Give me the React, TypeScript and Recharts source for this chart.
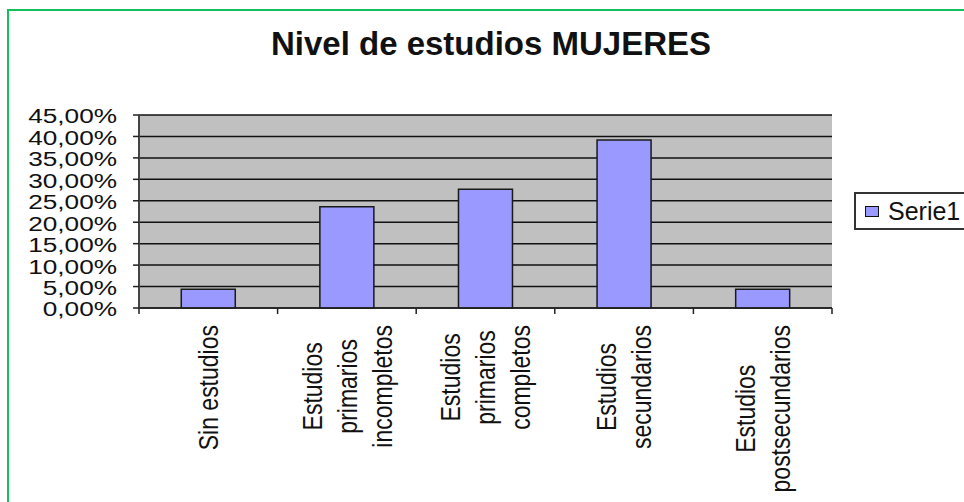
import React from "react";
import { BarChart, Bar, XAxis, YAxis, CartesianGrid } from "recharts";

const categories = [
  "Sin estudios",
  "Estudios\nprimarios\nincompletos",
  "Estudios\nprimarios\ncompletos",
  "Estudios\nsecundarios",
  "Estudios\npostsecundarios",
];
const serie1 = [0.044, 0.236, 0.277, 0.392, 0.044];
const yTicks = [0, 0.05, 0.1, 0.15, 0.2, 0.25, 0.3, 0.35, 0.4, 0.45];
const title = "Nivel de estudios MUJERES";
const seriesName = "Serie1";

const data = categories.map((c, i) => ({ cat: c, v: serie1[i] }));

const FONT = '"Liberation Sans", Arial, Helvetica, sans-serif';

let ctx: CanvasRenderingContext2D | null = null;
const measure = (s: string, size: number) => {
  if (!ctx) ctx = document.createElement("canvas").getContext("2d");
  if (!ctx) return s.length * size * 0.5;
  ctx.font = `${size}px "Liberation Sans", Arial`;
  return ctx.measureText(s).width;
};

const fmt = (v: number) => (v * 100).toFixed(2).replace(".", ",") + "%";

const YTick = (props: any) => {
  const { x, y, payload } = props;
  return (
    <g transform={`translate(${x},${y}) scale(1.31,1)`}>
      <text textAnchor="end" dy="0.42em" fontSize={20} fontFamily={FONT} fill="#111">
        {fmt(payload.value)}
      </text>
    </g>
  );
};

const XTick = (props: any) => {
  const { x, y, payload, index } = props;
  const off = payload.offset ?? 0;
  const lines = String(payload.value).split("\n");
  const size = 23;
  const maxLen = Math.max(...lines.map((l) => measure(l, size)));
  const cy = y + 17 + maxLen / 2;
  const lh = 28.7;
  const n = lines.length;
  return (
    <g>
      <line x1={x - off} x2={x - off} y1={y} y2={y + 6} stroke="#222" strokeWidth={1.5} />
      {index === categories.length - 1 && (
        <line x1={x + off} x2={x + off} y1={y} y2={y + 6} stroke="#222" strokeWidth={1.5} />
      )}
      <g transform={`translate(${x},${cy}) scale(1.22,1) rotate(-90)`}>
        {lines.map((l, i) => (
          <text
            key={i}
            x={0}
            y={(i - (n - 1) / 2) * lh}
            dy="0.35em"
            textAnchor="middle"
            fontSize={size}
            fontFamily={FONT}
            fill="#111"
          >
            {l}
          </text>
        ))}
      </g>
    </g>
  );
};

const LegendBox = () => (
  <div
    style={{
      position: "absolute",
      left: 854,
      top: 192,
      width: 116,
      height: 34,
      border: "2px solid #333",
      background: "#fff",
    }}
  >
    <div
      style={{
        position: "absolute",
        left: 9,
        top: 12,
        width: 12,
        height: 9,
        background: "#9999ff",
        border: "1.5px solid #111",
      }}
    />
    <div
      style={{
        position: "absolute",
        left: 32,
        top: 2,
        fontFamily: FONT,
        fontSize: 25,
        lineHeight: "30px",
        color: "#111",
        whiteSpace: "nowrap",
      }}
    >
      {seriesName}
    </div>
  </div>
);

export default function App() {
  return (
    <div
      style={{
        position: "fixed",
        left: 0,
        top: 0,
        width: 964,
        height: 502,
        overflow: "hidden",
        background: "#fff",
      }}
    >
      <div
        style={{
          position: "absolute",
          left: 7,
          top: 9,
          width: 1100,
          height: 700,
          border: "2px solid #14c05a",
        }}
      />
      <div
        style={{
          position: "absolute",
          left: 0,
          width: 982,
          top: 24,
          textAlign: "center",
          fontFamily: FONT,
          fontWeight: "bold",
          fontSize: 33,
          color: "#111",
          lineHeight: "40px",
        }}
      >
        {title}
      </div>
      <div style={{ position: "absolute", left: 0, top: 0 }}>
        <BarChart
          width={964}
          height={502}
          data={data}
          margin={{ top: 115, right: 132, left: 0, bottom: 0 }}
          barCategoryGap="30.5%"
        >
          <CartesianGrid
            yAxisId="left"
            vertical={false}
            horizontal={true}
            fill="#c0c0c0"
            fillOpacity={1}
            stroke="#111"
            strokeWidth={1.5}
          />
          <XAxis
            dataKey="cat"
            height={194}
            interval={0}
            tickSize={0}
            tickMargin={0}
            tickLine={false}
            axisLine={{ stroke: "#222", strokeWidth: 1.5 }}
            tick={<XTick />}
          />
          <YAxis
            yAxisId="left"
            width={139}
            domain={[0, 0.45]}
            ticks={yTicks}
            interval={0}
            tickSize={6}
            tickMargin={16}
            tickLine={{ stroke: "#222", strokeWidth: 1.5 }}
            axisLine={{ stroke: "#444", strokeWidth: 2 }}
            tick={<YTick />}
          />
          <YAxis
            yAxisId="right"
            orientation="right"
            width={0}
            domain={[0, 0.45]}
            tick={false}
            tickLine={false}
            axisLine={{ stroke: "#8a8a8a", strokeWidth: 1.5 }}
          />
          <Bar
            yAxisId="left"
            dataKey="v"
            name={seriesName}
            fill="#9999ff"
            stroke="#1a1a1a"
            strokeWidth={1.5}
            isAnimationActive={false}
          />
        </BarChart>
      </div>
      <LegendBox />
    </div>
  );
}
